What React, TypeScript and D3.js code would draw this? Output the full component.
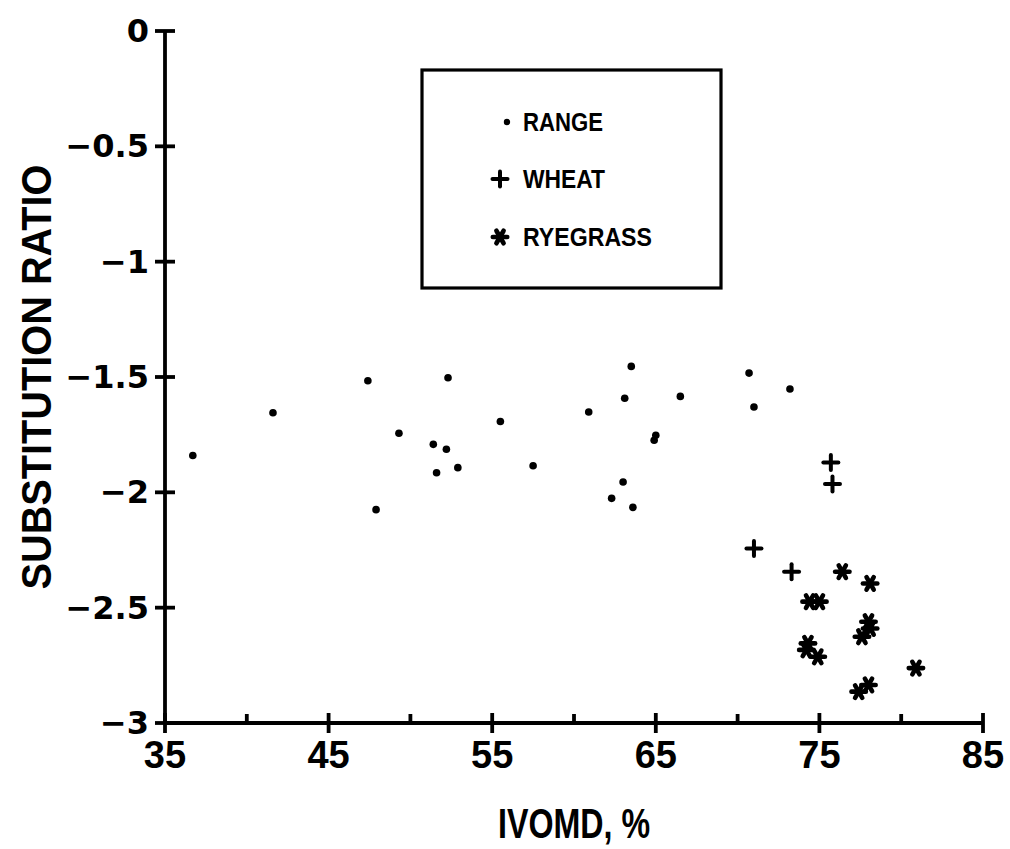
import React from "react";
import * as d3 from "d3";

// ---- data ----
const rangeX = [36.7, 41.6, 47.4, 47.9, 49.3, 51.4, 51.6, 52.2, 52.3, 52.9, 55.5, 57.5, 60.9, 62.3, 63.0, 63.1, 63.5, 63.6, 64.9, 65.0, 66.5, 70.7, 71.0, 73.2];
const rangeY = [-1.84, -1.655, -1.516, -2.075, -1.744, -1.792, -1.915, -1.813, -1.503, -1.893, -1.693, -1.885, -1.652, -2.026, -1.955, -1.592, -1.454, -2.065, -1.774, -1.753, -1.584, -1.483, -1.63, -1.552];

const wheatX = [75.7, 75.8, 71.0, 73.3];
const wheatY = [-1.871, -1.964, -2.244, -2.344];

const ryeX = [76.4, 78.1, 74.4, 75.0, 78.0, 78.1, 77.6, 74.3, 74.2, 74.9, 80.9, 78.0, 77.4];
const ryeY = [-2.344, -2.395, -2.474, -2.474, -2.561, -2.59, -2.626, -2.655, -2.683, -2.713, -2.762, -2.835, -2.864];

const xTicks = [35, 45, 55, 65, 75, 85];
const xMinorTicks = [40, 50, 60, 70, 80];
const yTicks = [0, -0.5, -1, -1.5, -2, -2.5, -3];
const yTickLabels = ["0", "\u22120.5", "\u22121", "\u22121.5", "\u22122", "\u22122.5", "\u22123"];

const legendLabels = ["RANGE", "WHEAT", "RYEGRASS"];
const xTitle = "IVOMD, %";
const yTitle = "SUBSTITUTION RATIO";

const W = 1010;
const H = 849;

const x = d3.scaleLinear().domain([35, 85]).range([165, 983]);
const y = d3.scaleLinear().domain([0, -3]).range([31, 723]);

const Dot = ({ cx, cy, r = 3.8 }: { cx: number; cy: number; r?: number }) => <circle cx={cx} cy={cy} r={r} fill="#000" />;

const Plus = ({ cx, cy }: { cx: number; cy: number }) => {
  const h = 7.5;
  return (
    <g stroke="#000" strokeWidth={4} strokeLinecap="round">
      <line x1={cx - h} y1={cy} x2={cx + h} y2={cy} />
      <line x1={cx} y1={cy - h} x2={cx} y2={cy + h} />
    </g>
  );
};

const Star = ({ cx, cy }: { cx: number; cy: number }) => {
  const h = 7.2;
  const angles = [0, 60, 120];
  return (
    <g stroke="#000" strokeWidth={4.6} strokeLinecap="round">
      {angles.map((a) => {
        const r = (a * Math.PI) / 180;
        const dx = Math.cos(r) * h;
        const dy = Math.sin(r) * h;
        return <line key={a} x1={cx - dx} y1={cy - dy} x2={cx + dx} y2={cy + dy} />;
      })}
    </g>
  );
};

export default function App() {
  const x0 = x.range()[0];
  const x1 = x.range()[1];
  const yTop = y.range()[0];
  const yBot = y.range()[1];
  const narrow = "'Liberation Sans Narrow', 'Liberation Sans', Arial, sans-serif";
  const bold = "'Liberation Sans', Arial, sans-serif";
  const wide = "'DejaVu Sans', sans-serif";

  const legendX = 500;
  const legendYs = [122, 179, 237];

  return (
    <svg width={W} height={H} style={{ position: "absolute", left: 0, top: 0, background: "#fff" }}>
      <rect x={0} y={0} width={W} height={H} fill="#fff" />

      {/* axes */}
      <g stroke="#000" strokeWidth={3.8} strokeLinecap="butt">
        <line x1={x0} y1={yTop} x2={x0} y2={yBot} />
        <line x1={x0} y1={yBot} x2={x1} y2={yBot} />
        {yTicks.map((t) => (
          <line key={"yt" + t} x1={x0 - 10} y1={y(t)} x2={x0 + 10} y2={y(t)} />
        ))}
        {xTicks.map((t) => (
          <line key={"xt" + t} x1={x(t)} y1={yBot - 10} x2={x(t)} y2={yBot + 10} />
        ))}
        {xMinorTicks.map((t) => (
          <line key={"xm" + t} x1={x(t)} y1={yBot - 9} x2={x(t)} y2={yBot} />
        ))}
      </g>

      {/* tick labels */}
      {yTicks.map((t, i) => (
        <text key={"yl" + t} x={x0 - 16} y={y(t) + 11} textAnchor="end" fontFamily={wide} fontWeight="bold" fontSize={32}>
          {yTickLabels[i]}
        </text>
      ))}
      {xTicks.map((t) => (
        <text key={"xl" + t} x={x(t)} y={768} textAnchor="middle" fontFamily={bold} fontWeight="bold" fontSize={38}>
          {String(t)}
        </text>
      ))}

      {/* axis titles */}
      <text
        transform={`translate(51, 377) rotate(-90)`}
        textAnchor="middle"
        fontFamily={bold}
        fontWeight="bold"
        fontSize={42}
        textLength={425}
        lengthAdjust="spacingAndGlyphs"
      >
        {yTitle}
      </text>
      <text x={574} y={838} textAnchor="middle" fontFamily={narrow} fontWeight="bold" fontSize={42} textLength={152} lengthAdjust="spacingAndGlyphs">
        {xTitle}
      </text>

      {/* data */}
      {rangeX.map((v, i) => (
        <Dot key={"r" + i} cx={x(v)} cy={y(rangeY[i])} />
      ))}
      {wheatX.map((v, i) => (
        <Plus key={"w" + i} cx={x(v)} cy={y(wheatY[i])} />
      ))}
      {ryeX.map((v, i) => (
        <Star key={"s" + i} cx={x(v)} cy={y(ryeY[i])} />
      ))}

      {/* legend */}
      <rect x={422} y={70} width={299} height={218} fill="none" stroke="#000" strokeWidth={3.2} />
      <Dot cx={legendX + 7} cy={legendYs[0]} r={3.2} />
      <Plus cx={legendX} cy={legendYs[1]} />
      <Star cx={legendX} cy={legendYs[2]} />
      {legendLabels.map((l, i) => (
        <text
          key={l}
          x={523}
          y={legendYs[i] + 9}
          fontFamily={narrow}
          fontWeight="bold"
          fontSize={26}
          textLength={[80, 82, 129][i]}
          lengthAdjust="spacingAndGlyphs"
        >
          {l}
        </text>
      ))}
    </svg>
  );
}
